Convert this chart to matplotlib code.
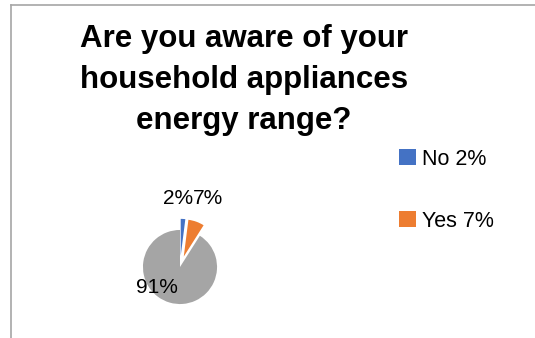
import matplotlib
matplotlib.use("Agg")
import matplotlib.pyplot as plt
from matplotlib.lines import Line2D

categories = ["No", "Yes", ""]
values = [2, 7, 91]
colors = ["#4472C4", "#ED7D31", "#A5A5A5"]
explode = [0.3, 0.3, 0.0]
title = "Are you aware of your\nhousehold appliances\nenergy range?"

W, H = 535, 338
fig = plt.figure(figsize=(W / 100, H / 100), dpi=100)
fig.patch.set_facecolor("white")

# chart border (cropped on right and bottom)
fig.add_artist(Line2D([11 / W, 11 / W], [0, 1 - 5 / H], color="#a6a6a6", lw=1.2))
fig.add_artist(Line2D([11 / W, 1], [1 - 5 / H, 1 - 5 / H], color="#a6a6a6", lw=1.2))

# pie axes: center (180, 267) px, radius ~37 px
cx, cy, size = 180, 267, 100
ax = fig.add_axes([(cx - size / 2) / W, 1 - (cy + size / 2) / H, size / W, size / H])

wedges, texts, autotexts = ax.pie(
    values, colors=colors, explode=explode, startangle=90, counterclock=False,
    autopct="%d%%", pctdistance=1.0, wedgeprops=dict(linewidth=0),
)
ax.set_xlim(-1.35, 1.35)
ax.set_ylim(-1.35, 1.35)
ax.set_aspect("equal")
ax.axis("off")

label_pos = [(-0.05, 1.85), (0.75, 1.85), (-0.62, -0.56)]
for t, p in zip(autotexts, label_pos):
    t.set_position(p)
    t.set_fontsize(15)
    t.set_family("Liberation Sans")
    t.set_color("black")
    t.set_ha("center")
    t.set_va("center")
    t.set_clip_on(False)

fig.text(244 / W, 1 - 80 / H, title, ha="center", va="center", fontsize=22.5,
         fontweight="bold", family="Liberation Sans", linespacing=1.5)

leg = fig.legend(
    wedges[:2], [f"{c} {v}%" for c, v in zip(categories[:2], values[:2])],
    loc="upper left", bbox_to_anchor=(390 / W, 1 - 140 / H), frameon=False,
    prop={"family": "Liberation Sans", "size": 15.5}, handlelength=0.8,
    handleheight=0.8, handletextpad=0.3, labelspacing=1.9, borderaxespad=0,
)

fig.savefig("out.png", dpi=100, facecolor="white")
